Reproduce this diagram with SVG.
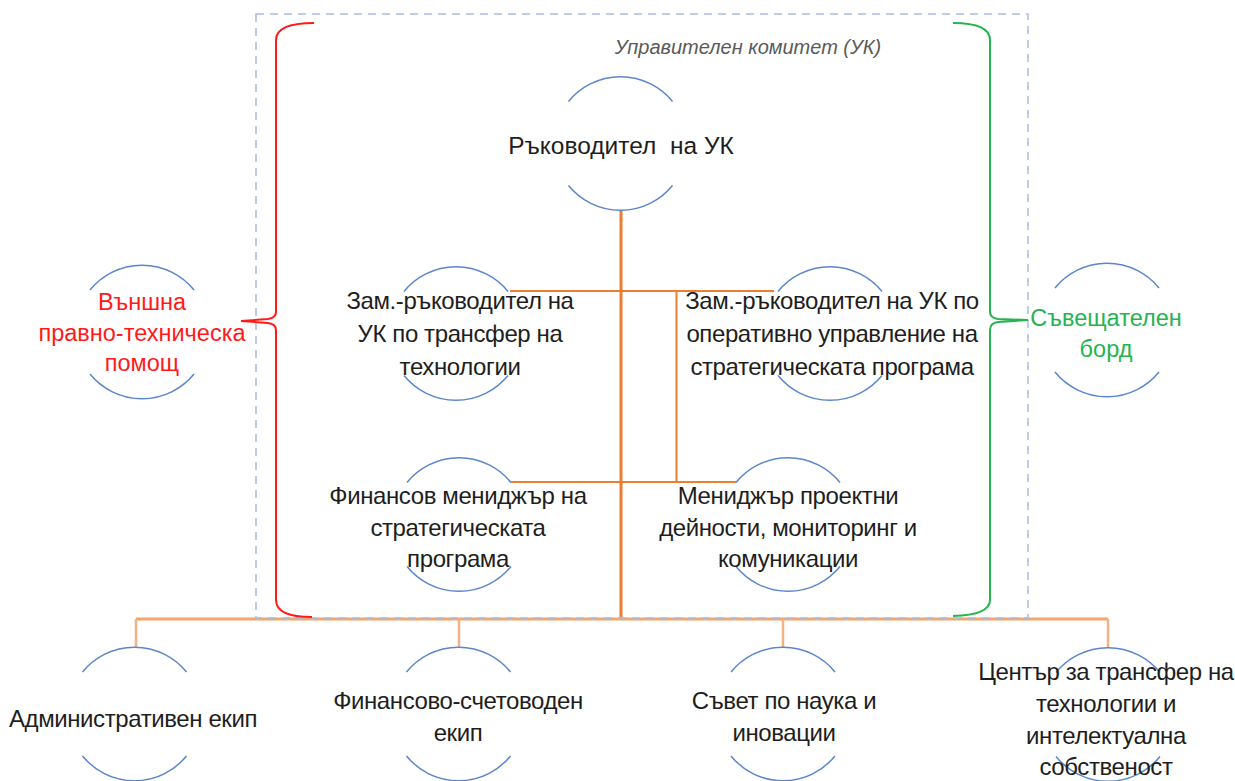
<svg xmlns="http://www.w3.org/2000/svg" width="1235" height="781" viewBox="0 0 1235 781">
<style>
.ring{fill:none;stroke:#5b86cc;stroke-width:1.5}
.t{font-family:"Liberation Sans",Arial,sans-serif;font-size:24px;letter-spacing:-0.4px;fill:#1e1e1e;text-anchor:middle}
.head{font-size:24.5px;letter-spacing:0}
.red{fill:#ff1a1a;font-size:23.5px;letter-spacing:0}
.grn{fill:#26b44f;font-size:23.5px;letter-spacing:0}
.cap{font-family:"Liberation Sans",Arial,sans-serif;font-size:20px;font-style:italic;fill:#5a5a5a;text-anchor:middle}
.main{fill:none;stroke:#ed7d31;stroke-width:3}
.sub{fill:none;stroke:#ed7d31;stroke-width:2}
.low{fill:none;stroke:#f4a56e;stroke-width:3}
.drop{fill:none;stroke:#f4b183;stroke-width:2.5}
</style>
<rect width="1235" height="781" fill="#ffffff"/>
<g id="connectors">
<path class="main" d="M621,210 V619"/>
<path class="sub" d="M510,291 H774"/>
<path class="sub" d="M676.5,291 V482"/>
<path class="sub" d="M511,482 H736"/>
<path class="low" d="M136,619 H1108"/>
<path class="drop" d="M136,619 V648 M459,619 V648 M783,619 V648 M1108,619 V648"/>
</g>
<g id="committee-frame">
<rect x="256" y="14" width="772" height="604" fill="none" stroke="#a9bde0" stroke-width="1.5" stroke-dasharray="8 6"/>
<text class="cap" x="748" y="54">Управителен комитет (УК)</text>
</g>
<g id="brace-left">
<path d="M314,23 Q276,23 276,40 V312 Q276,318 268,319 L241,321 L268,323 Q276,324 276,330 V600 Q276,617 312,617" fill="none" stroke="#ff1a1a" stroke-width="2"/>
</g>
<g id="brace-right">
<path d="M953,23 Q990,23 990,40 V312 Q990,318 998,319 L1028,320 L998,322 Q990,323 990,330 V600 Q990,615 953,616" fill="none" stroke="#26b44f" stroke-width="2"/>
</g>
<g id="node-head">
<path class="ring" d="M568.5,101.5 A67,67 0 0 1 672.5,101.5 M568.5,185.5 A67,67 0 0 0 672.5,185.5"/>
<text class="t head" x="621" y="154" xml:space="preserve">Ръководител  на УК</text>
</g>
<g id="node-deputy-transfer">
<path class="ring" d="M404,291.5 A67,67 0 0 1 508,291.5 M404,375.5 A67,67 0 0 0 508,375.5"/>
<text class="t" x="460" y="309">Зам.-ръководител на</text>
<text class="t" x="460" y="342">УК по трансфер на</text>
<text class="t" x="460" y="375">технологии</text>
</g>
<g id="node-deputy-operations">
<path class="ring" d="M778,291.5 A67,67 0 0 1 882,291.5 M778,375.5 A67,67 0 0 0 882,375.5"/>
<text class="t" x="832" y="309">Зам.-ръководител на УК по</text>
<text class="t" x="832" y="342">оперативно управление на</text>
<text class="t" x="832" y="375">стратегическата програма</text>
</g>
<g id="node-finance-manager">
<path class="ring" d="M407,482.5 A67,67 0 0 1 511,482.5 M407,566.5 A67,67 0 0 0 511,566.5"/>
<text class="t" x="458" y="504">Финансов мениджър на</text>
<text class="t" x="458" y="536">стратегическата</text>
<text class="t" x="458" y="567">програма</text>
</g>
<g id="node-project-manager">
<path class="ring" d="M736,482.5 A67,67 0 0 1 840,482.5 M736,566.5 A67,67 0 0 0 840,566.5"/>
<text class="t" x="788" y="504">Мениджър проектни</text>
<text class="t" x="788" y="536">дейности, мониторинг и</text>
<text class="t" x="788" y="567">комуникации</text>
</g>
<g id="node-external">
<path class="ring" d="M90,290 A67,67 0 0 1 194,290 M90,374 A67,67 0 0 0 194,374"/>
<text class="t red" x="142" y="310">Външна</text>
<text class="t red" x="142" y="341">правно-техническа</text>
<text class="t red" x="142" y="371">помощ</text>
</g>
<g id="node-advisory">
<path class="ring" d="M1055,288 A67,67 0 0 1 1159,288 M1055,372 A67,67 0 0 0 1159,372"/>
<text class="t grn" x="1106" y="326">Съвещателен</text>
<text class="t grn" x="1106" y="357">борд</text>
</g>
<g id="node-admin">
<path class="ring" d="M82.5,672 A67,67 0 0 1 186.5,672 M82.5,756 A67,67 0 0 0 186.5,756"/>
<text class="t" x="133" y="727">Административен екип</text>
</g>
<g id="node-accounting">
<path class="ring" d="M406.5,672 A67,67 0 0 1 510.5,672 M406.5,756 A67,67 0 0 0 510.5,756"/>
<text class="t" x="458" y="709">Финансово-счетоводен</text>
<text class="t" x="458" y="741">екип</text>
</g>
<g id="node-science">
<path class="ring" d="M731,672 A67,67 0 0 1 835,672 M731,756 A67,67 0 0 0 835,756"/>
<text class="t" x="784" y="709">Съвет по наука и</text>
<text class="t" x="784" y="741">иновации</text>
</g>
<g id="node-ttc">
<path class="ring" d="M1056,672.5 A67,67 0 0 1 1160,672.5 M1056,756.5 A67,67 0 0 0 1160,756.5"/>
<text class="t" x="1106" y="680">Център за трансфер на</text>
<text class="t" x="1106" y="712">технологии и</text>
<text class="t" x="1106" y="744">интелектуална</text>
<text class="t" x="1106" y="775">собственост</text>
</g>
</svg>
